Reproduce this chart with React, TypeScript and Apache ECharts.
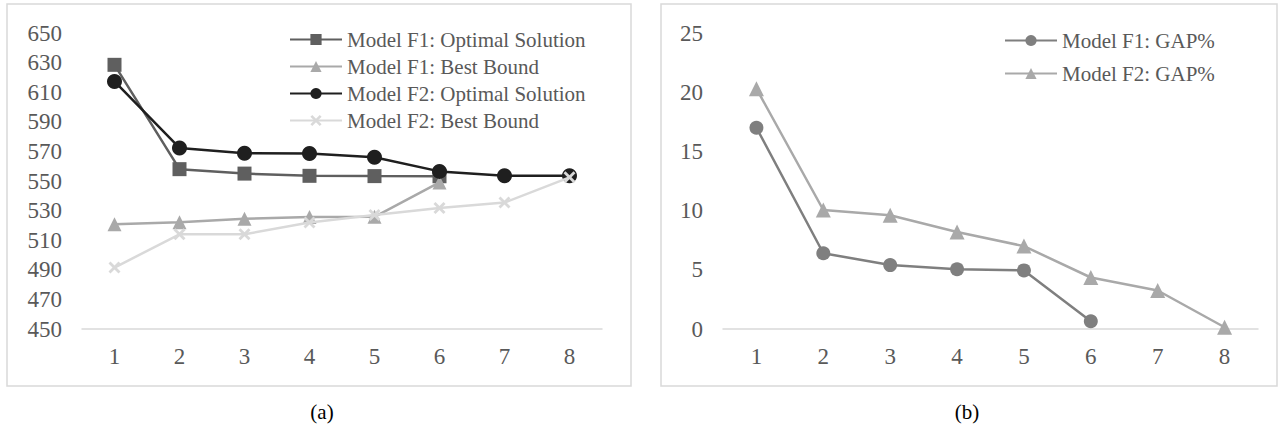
import React, { useEffect, useRef } from "react";
import * as echarts from "echarts";

const categories = ["1", "2", "3", "4", "5", "6", "7", "8"];
const f1Optimal = [628.5, 558, 555, 553.5, 553.3, 553.2];
const f1BestBound = [520.8, 522.2, 524.5, 525.6, 525.8, 549];
const f2Optimal = [617.3, 572.3, 568.8, 568.5, 566, 556.5, 553.5, 553.5];
const f2BestBound = [491.5, 514, 514, 522, 527, 531.8, 535.4, 552.5];
const f1Gap = [17.0, 6.4, 5.4, 5.05, 4.95, 0.65];
const f2Gap = [20.3, 10.05, 9.6, 8.2, 7.0, 4.35, 3.25, 0.15];
const legendLeft = [
  "Model F1: Optimal Solution",
  "Model F1: Best Bound",
  "Model F2: Optimal Solution",
  "Model F2: Best Bound",
];
const legendRight = ["Model F1: GAP%", "Model F2: GAP%"];
const captions = ["(a)", "(b)"];

const FONT = "'Liberation Serif', 'Times New Roman', serif";
const CROSS = "path://M2,0 L6,4 L10,0 L12,2 L8,6 L12,10 L10,12 L6,8 L2,12 L0,10 L4,6 L0,2 Z";

export default function App() {
  const ref = useRef<HTMLDivElement>(null);
  useEffect(() => {
    if (!ref.current) return;
    const chart = echarts.init(ref.current, null, { renderer: "svg" });
    const axisLabel = { color: "#595959", fontFamily: FONT, fontSize: 23 };
    const xAxisBase = {
      type: "category",
      data: categories,
      boundaryGap: true,
      axisLine: { show: true, lineStyle: { color: "#d9d9d9", width: 1.5 } },
      axisTick: { show: false },
      axisLabel: { ...axisLabel, margin: 16 },
      splitLine: { show: false },
    };
    const yAxisBase = {
      type: "value",
      axisLine: { show: false },
      axisTick: { show: false },
      splitLine: { show: false },
      axisLabel: { ...axisLabel, margin: 20 },
    };
    const lineSeries = (
      name: string,
      data: number[],
      color: string,
      symbol: string,
      symbolSize: number,
      xi: number,
      z: number
    ) => ({
      name,
      type: "line",
      data,
      xAxisIndex: xi,
      yAxisIndex: xi,
      symbol,
      symbolSize,
      showAllSymbol: true,
      lineStyle: { color, width: 2.5 },
      itemStyle: { color, borderWidth: 0 },
      z,
    });
    chart.setOption({
      animation: false,
      textStyle: { fontFamily: FONT },
      grid: [
        { left: 82, top: 33, width: 520, height: 296 },
        { left: 723, top: 33, width: 535, height: 296 },
      ],
      xAxis: [
        { ...xAxisBase, gridIndex: 0 },
        { ...xAxisBase, gridIndex: 1 },
      ],
      yAxis: [
        { ...yAxisBase, gridIndex: 0, min: 450, max: 650, interval: 20 },
        { ...yAxisBase, gridIndex: 1, min: 0, max: 25, interval: 5 },
      ],
      legend: [
        {
          data: legendLeft,
          orient: "vertical",
          left: 284,
          top: 24,
          itemWidth: 52,
          itemHeight: 14,
          itemGap: 6,
          textStyle: { color: "#595959", fontFamily: FONT, fontSize: 21, lineHeight: 21 },
        },
        {
          data: legendRight,
          orient: "vertical",
          left: 999,
          top: 25,
          itemWidth: 52,
          itemHeight: 14,
          itemGap: 12,
          textStyle: { color: "#595959", fontFamily: FONT, fontSize: 21, lineHeight: 21 },
        },
      ],
      series: [
        lineSeries(legendLeft[0], f1Optimal, "#5f5f5f", "rect", 14, 0, 2),
        lineSeries(legendLeft[1], f1BestBound, "#a9a9a9", "triangle", 14, 0, 3),
        lineSeries(legendLeft[2], f2Optimal, "#1f1f1f", "circle", 15, 0, 4),
        lineSeries(legendLeft[3], f2BestBound, "#d9d9d9", CROSS, 12, 0, 5),
        lineSeries(legendRight[0], f1Gap, "#7f7f7f", "circle", 14, 1, 2),
        lineSeries(legendRight[1], f2Gap, "#a9a9a9", "triangle", 15, 1, 3),
      ],
      graphic: [
        {
          type: "rect",
          shape: { x: 7, y: 4, width: 624, height: 382 },
          style: { fill: "none", stroke: "#d9d9d9", lineWidth: 1.5 },
          silent: true,
        },
        {
          type: "rect",
          shape: { x: 661, y: 4, width: 616, height: 382 },
          style: { fill: "none", stroke: "#d9d9d9", lineWidth: 1.5 },
          silent: true,
        },
        {
          type: "text",
          x: 322,
          y: 412,
          style: {
            text: captions[0],
            fill: "#000",
            font: `21px ${FONT}`,
            align: "center",
            verticalAlign: "middle",
          },
        },
        {
          type: "text",
          x: 967,
          y: 412,
          style: {
            text: captions[1],
            fill: "#000",
            font: `21px ${FONT}`,
            align: "center",
            verticalAlign: "middle",
          },
        },
      ],
    });
    return () => chart.dispose();
  }, []);
  return (
    <div
      ref={ref}
      style={{ position: "absolute", left: 0, top: 0, width: 1283, height: 430, background: "#fff" }}
    />
  );
}
